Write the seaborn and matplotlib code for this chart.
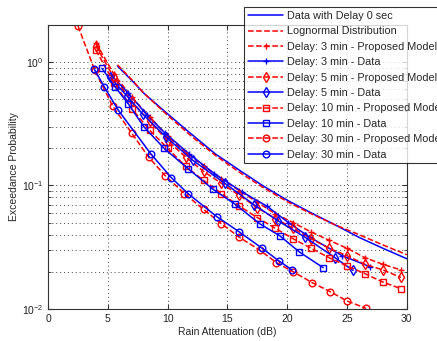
import matplotlib
matplotlib.use("Agg")
import matplotlib.pyplot as plt
import numpy as np
import pandas as pd
import seaborn as sns

# ---- data ----
a_ref = [5.8, 7, 8, 10, 12, 14, 16, 18, 20, 22, 24, 26, 28, 30]
p_data0 = [0.93, 0.71, 0.56, 0.38, 0.26, 0.18, 0.133, 0.099, 0.076, 0.060, 0.048, 0.038, 0.031, 0.0255]
p_logn = [0.95, 0.72, 0.56, 0.37, 0.25, 0.175, 0.128, 0.096, 0.074, 0.059, 0.048, 0.040, 0.033, 0.0275]

a_model = [4, 5.5, 7, 8.5, 10, 11.5, 13, 14.5, 16, 17.5, 19, 20.5, 22, 23.5, 25, 26.5, 28, 29.5]
p_m3 = [1.43, 0.80, 0.52, 0.36, 0.25, 0.185, 0.145, 0.113, 0.091, 0.073, 0.059, 0.050, 0.042, 0.036, 0.031, 0.026, 0.023, 0.0207]
p_m5 = [1.35, 0.75, 0.48, 0.33, 0.23, 0.17, 0.13, 0.104, 0.083, 0.066, 0.054, 0.045, 0.037, 0.031, 0.027, 0.023, 0.0207, 0.018]
p_m10 = [1.25, 0.68, 0.42, 0.28, 0.20, 0.143, 0.11, 0.086, 0.068, 0.055, 0.045, 0.037, 0.031, 0.026, 0.0223, 0.0193, 0.0165, 0.0146]

a_m30 = [2.5, 3.9, 5.4, 7.0, 8.4, 9.8, 11.4, 13.0, 14.5, 16.0, 17.7, 19.1, 20.5, 22.1, 23.6, 25.0, 26.6]
p_m30 = [1.96, 0.86, 0.44, 0.265, 0.17, 0.12, 0.086, 0.064, 0.049, 0.038, 0.030, 0.0237, 0.020, 0.0163, 0.0138, 0.0116, 0.0101]

a_d3 = [5.3, 6.7, 8.3, 9.8, 11.8, 13.9, 16.2, 18.3, 20.1, 21.9, 24.6, 26.9]
p_d3 = [0.78, 0.56, 0.37, 0.265, 0.18, 0.125, 0.089, 0.068, 0.050, 0.038, 0.027, 0.022]

a_d5 = [5.2, 6.6, 7.9, 9.9, 12.1, 14.8, 17.2, 19.2, 21.5, 24.0, 25.5]
p_d5 = [0.75, 0.53, 0.38, 0.245, 0.16, 0.104, 0.070, 0.052, 0.038, 0.026, 0.0205]

a_d10 = [4.5, 5.6, 6.7, 8.0, 9.7, 11.7, 13.8, 15.6, 17.7, 19.4, 21.0, 23.0]
p_d10 = [0.89, 0.63, 0.46, 0.30, 0.20, 0.137, 0.093, 0.071, 0.049, 0.039, 0.029, 0.0216]

a_d30 = [3.85, 4.7, 5.85, 8.6, 10.3, 11.7, 14.1, 16.0, 17.9, 19.3, 20.4]
p_d30 = [0.88, 0.63, 0.41, 0.18, 0.116, 0.086, 0.056, 0.042, 0.031, 0.0245, 0.0207]

sns.set_style("ticks")
plt.rcParams['font.family'] = ['Liberation Sans', 'DejaVu Sans']
plt.rcParams['mathtext.fontset'] = 'custom'
plt.rcParams['mathtext.rm'] = 'Liberation Sans'

fig = plt.figure(figsize=(4.37, 3.41), dpi=100)
ax = fig.add_axes([0.110, 0.094, 0.821, 0.833])

series = [
    ("Data with Delay 0 sec", a_ref, p_data0, "blue", "-", None),
    ("Lognormal Distribution", a_ref, p_logn, "red", "--", None),
    ("Delay: 3 min - Proposed Model", a_model, p_m3, "red", "--", "+"),
    ("Delay: 3 min - Data", a_d3, p_d3, "blue", "-", "+"),
    ("Delay: 5 min - Proposed Model", a_model, p_m5, "red", "--", "d"),
    ("Delay: 5 min - Data", a_d5, p_d5, "blue", "-", "d"),
    ("Delay: 10 min - Proposed Model", a_model, p_m10, "red", "--", "s"),
    ("Delay: 10 min - Data", a_d10, p_d10, "blue", "-", "s"),
    ("Delay: 30 min - Proposed Model", a_m30, p_m30, "red", "--", "o"),
    ("Delay: 30 min - Data", a_d30, p_d30, "blue", "-", "o"),
]

for name, xs, ys, col, ls, mk in series:
    df = pd.DataFrame({"x": xs, "y": ys})
    sns.lineplot(data=df, x="x", y="y", ax=ax, color=col, linestyle=ls,
                 marker=mk, markersize=4.8, markerfacecolor="none",
                 markeredgecolor=col, markeredgewidth=1.0, linewidth=1.1,
                 sort=False, estimator=None, label=name, legend=False)

ax.set_yscale("log")
ax.set_xlim(0, 30)
ax.set_ylim(0.01, 2)
ax.set_xticks([0, 5, 10, 15, 20, 25, 30])
grid_style = dict(linestyle=(0, (1, 3)), color="#444444", linewidth=0.7)
ax.grid(True, which="major", **grid_style)
ax.grid(True, which="minor", axis="y", **grid_style)
ax.tick_params(which="both", direction="in", top=True, right=True, labelsize=7.5, colors="#333333")
ax.tick_params(axis="both", labelcolor="#222222")
for sp in ax.spines.values():
    sp.set_color("#333333")
    sp.set_linewidth(0.8)
ax.set_xlabel("Rain Attenuation (dB)", fontsize=7.5, labelpad=2)
ax.set_ylabel("Exceedance Probability", fontsize=7.5, labelpad=2)

# legend sits partly outside the figure, clipped at the right edge like the original
handles, labels = ax.get_legend_handles_labels()
leg = fig.legend(handles, labels, loc="upper left", bbox_to_anchor=(0.558, 0.979),
                 fontsize=7.8, frameon=True, fancybox=False, edgecolor="black",
                 handlelength=3.3, handletextpad=0.3, labelspacing=0.5,
                 borderpad=0.35, borderaxespad=0)
leg.get_frame().set_linewidth(0.8)

fig.savefig("out.png", dpi=100)
